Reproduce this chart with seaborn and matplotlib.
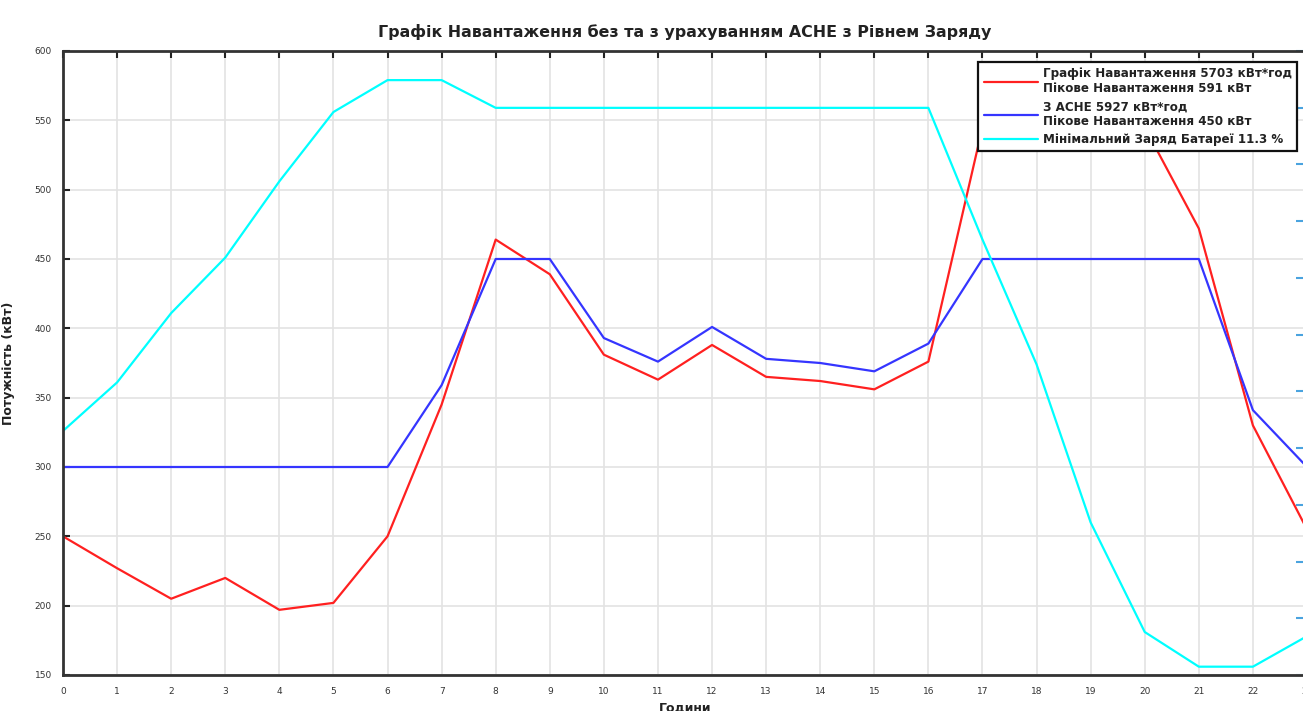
import matplotlib
matplotlib.use("Agg")
import matplotlib.pyplot as plt
import seaborn as sns
import pandas as pd

hours = list(range(24))
load_without = [250, 227, 205, 220, 197, 202, 250, 345, 464, 439, 381, 363,
                388, 365, 362, 356, 376, 545, 580, 591, 545, 472, 330, 255]
load_with = [300, 300, 300, 300, 300, 300, 300, 359, 450, 450, 393, 376,
             401, 378, 375, 369, 389, 450, 450, 450, 450, 450, 341, 300]
battery = [326, 361, 411, 451, 506, 556, 579, 579, 559, 559, 559, 559,
           559, 559, 559, 559, 559, 464, 374, 260, 181, 156, 156, 178]

labels = [
    "Графік Навантаження 5703 кВт*год\nПікове Навантаження 591 кВт",
    "З АСНЕ 5927 кВт*год\nПікове Навантаження 450 кВт",
    "Мінімальний Заряд Батареї 11.3 %",
]
title = "Графік Навантаження без та з урахуванням АСНЕ з Рівнем Заряду"
ylabel = "Потужність (кВт)"
xlabel = "Години"
yticks = [150, 200, 250, 300, 350, 400, 450, 500, 550, 600]

sns.set_style("white")
plt.rcParams['font.family'] = ['DejaVu Sans']

fig = plt.figure(figsize=(13.03, 7.11), dpi=100)
ax = fig.add_axes([63/1303, 36/711, 1244/1303, 624/711])

df = pd.DataFrame({"h": hours, "a": load_without, "b": load_with, "c": battery})
sns.lineplot(data=df, x="h", y="a", ax=ax, color="#ff2020", linewidth=1.6, label=labels[0])
sns.lineplot(data=df, x="h", y="b", ax=ax, color="#3535ff", linewidth=1.6, label=labels[1])
sns.lineplot(data=df, x="h", y="c", ax=ax, color="#00ffff", linewidth=1.6, label=labels[2])

ax.set_xlim(0, 23)
ax.set_ylim(150, 600)
ax.set_xticks(hours)
ax.set_yticks(yticks)
ax.grid(True, color="#e3e3e3", linewidth=1.2)
ax.set_axisbelow(True)
ax.tick_params(axis="both", direction="in", length=5, width=1.5, colors="#222222",
               labelsize=6.5, top=True, labelcolor="#333333")
ax.tick_params(axis="x", pad=9)
ax.tick_params(axis="y", pad=8)
for s in ["left", "top", "bottom", "right"]:
    ax.spines[s].set_color("#333333")
    ax.spines[s].set_linewidth(2)

ax.set_title(title, fontsize=11.4, fontweight="bold", color="#222222", pad=10)
ax.set_ylabel(ylabel, fontsize=9, fontweight="bold", color="#222222", labelpad=14)
ax.set_xlabel(xlabel, fontsize=9, fontweight="bold", color="#222222", labelpad=4)

# right axis ticks (light blue), labels fall outside the cropped figure
ax2 = ax.twinx()
ax2.set_ylim(0, 110)
ax2.set_yticks(range(0, 111, 10))
ax2.tick_params(axis="y", direction="in", length=8, width=1.5, colors="#4aa3df",
                labelright=False)
for s in ["left", "top", "bottom", "right"]:
    ax2.spines[s].set_visible(False)

leg = ax.legend(loc="upper right", fontsize=8.6, frameon=True, fancybox=False,
                handlelength=4.6, handletextpad=0.35, borderpad=0.45, labelspacing=0.4,
                edgecolor="#111111", framealpha=1, borderaxespad=0)
leg.get_frame().set_linewidth(1.6)
leg.set_bbox_to_anchor((1297/1303, 1 - 62/711), transform=fig.transFigure)
for t in leg.get_texts():
    t.set_fontweight("bold")
    t.set_color("#222222")
leg.set_zorder(10)
ax.set_zorder(2)
ax.patch.set_visible(False)

fig.savefig("out.png", dpi=100)
